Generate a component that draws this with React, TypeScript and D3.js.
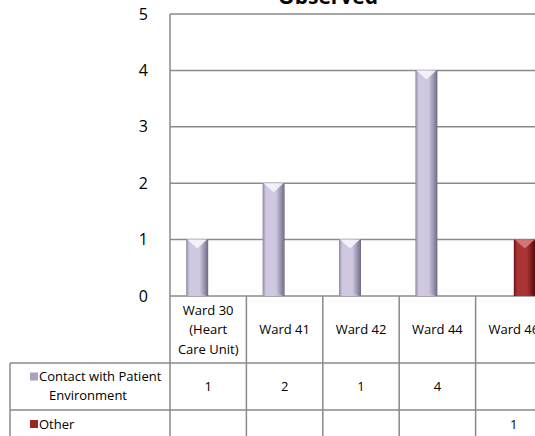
import React, { useEffect } from "react";
import * as d3 from "d3";

const categories = ["Ward 30 (Heart Care Unit)", "Ward 41", "Ward 42", "Ward 44", "Ward 46"];
const categoryLines = [["Ward 30", "(Heart", "Care Unit)"], ["Ward 41"], ["Ward 42"], ["Ward 44"], ["Ward 46"]];
const contactValues: (number | null)[] = [1, 2, 1, 4, null];
const otherValues: (number | null)[] = [null, null, null, null, 1];
const yTicks = [0, 1, 2, 3, 4, 5];

const series = [
  { key: "contact", label: ["Contact with Patient", "Environment"], values: contactValues, dark: "#8e87a3", light: "#cfc8e0", top: "#f6f4fa", swatch: "#aaa3bd" },
  { key: "other", label: ["Other"], values: otherValues, dark: "#6a1010", light: "#a93434", top: "#d77c7c", swatch: "#9a2626" },
];

const W = 535;
const H = 436;
const plotLeft = 170;
const plotTop = 14;
const plotBottom = 296;
const colW = 76.4;
const rowBottoms = [363, 410, 458];
const font = "'Open Sans', 'Noto Sans', sans-serif";
const lineColor = "#8a8a8a";
const fs = 13;

export default function App() {
  useEffect(() => {
    document.body.style.margin = "0";
  }, []);

  const x = d3
    .scaleBand<string>()
    .domain(categories)
    .range([plotLeft, plotLeft + colW * categories.length]);
  const x1 = d3
    .scaleBand<string>()
    .domain(series.map((s) => s.key))
    .range([0, x.bandwidth()])
    .paddingOuter(0.735);
  const y = d3.scaleLinear().domain([0, 5]).range([plotBottom, plotTop]);

  const bw = x1.bandwidth();

  return (
    <svg width={W} height={H} style={{ display: "block", background: "#fff" }}>
      <defs>
        {series.map((s) => (
          <linearGradient key={s.key} id={`g-${s.key}`} x1="0" y1="0" x2="1" y2="0">
            <stop offset="0%" stopColor={s.dark} />
            <stop offset="15%" stopColor={s.light} />
            <stop offset="60%" stopColor={s.light} />
            <stop offset="88%" stopColor={s.dark} />
            <stop offset="100%" stopColor={d3.color(s.dark)!.darker(0.7).toString()} />
          </linearGradient>
        ))}
      </defs>

      {/* title */}
      <text x={328} y={4} textAnchor="middle" fontFamily={font} fontWeight="bold" fontSize={21}>
        Observed
      </text>

      {/* gridlines */}
      {yTicks.map((t) => (
        <line key={t} x1={plotLeft} x2={W} y1={y(t)} y2={y(t)} stroke={lineColor} strokeWidth={1.5} />
      ))}
      {yTicks.map((t) => (
        <text key={`l${t}`} x={148} y={y(t)} dy="0.35em" textAnchor="end" fontFamily={font} fontSize={16}>
          {t}
        </text>
      ))}

      {/* bars */}
      {series.map((s) =>
        s.values.map((v, i) => {
          if (v == null) return null;
          const bx = x(categories[i])! + x1(s.key)!;
          const top = y(v);
          const h = y(0) - top;
          return (
            <g key={`${s.key}-${i}`}>
              <rect x={bx} y={top} width={bw} height={h} fill={`url(#g-${s.key})`} />
              <path
                d={`M${bx + 1},${top} L${bx + bw - 1},${top} L${bx + bw / 2},${top + 9} Z`}
                fill={s.top}
                opacity={0.9}
              />
              <path
                d={`M${bx + 2},${y(0)} L${bx + bw - 2},${y(0)} L${bx + bw / 2},${y(0) - 6} Z`}
                fill={s.light}
                opacity={0.5}
              />
            </g>
          );
        })
      )}

      {/* axis line */}
      <line x1={plotLeft} x2={plotLeft} y1={plotTop} y2={H} stroke={lineColor} strokeWidth={1.5} />

      {/* data table */}
      {categories.map((c, i) => (
        <line
          key={`v${i}`}
          x1={x(c)! + colW}
          x2={x(c)! + colW}
          y1={plotBottom}
          y2={H}
          stroke={lineColor}
          strokeWidth={1.5}
        />
      ))}
      {rowBottoms.slice(0, 2).map((rb) => (
        <line key={`h${rb}`} x1={10} x2={W} y1={rb} y2={rb} stroke={lineColor} strokeWidth={1.5} />
      ))}
      <line x1={10} x2={10} y1={rowBottoms[0]} y2={H} stroke={lineColor} strokeWidth={1.5} />

      {categories.map((c, i) => {
        const lines = categoryLines[i];
        const cy = (plotBottom + rowBottoms[0]) / 2;
        const lh = 19.5;
        return (
          <text key={`c${i}`} textAnchor="middle" fontFamily={font} fontSize={fs}>
            {lines.map((ln, j) => (
              <tspan key={j} x={x(c)! + colW / 2} y={cy + (j - (lines.length - 1) / 2) * lh} dy="0.35em">
                {ln}
              </tspan>
            ))}
          </text>
        );
      })}

      {series.map((s, si) => {
        const rt = rowBottoms[si];
        const rb = rowBottoms[si + 1];
        const cy = si === 0 ? (rt + rb) / 2 : rt + 14;
        return (
          <g key={`row${s.key}`}>
            {s.label.length > 1 ? (
              <>
                <rect x={30} y={cy - 14} width={8} height={8} fill={s.swatch} />
                <text x={39} y={cy - 10} dy="0.35em" fontFamily={font} fontSize={fs}>
                  {s.label[0]}
                </text>
                <text x={88} y={cy + 9} dy="0.35em" textAnchor="middle" fontFamily={font} fontSize={fs}>
                  {s.label[1]}
                </text>
              </>
            ) : (
              <>
                <rect x={30} y={cy - 4} width={8} height={8} fill={s.swatch} />
                <text x={39} y={cy} dy="0.35em" fontFamily={font} fontSize={fs}>
                  {s.label[0]}
                </text>
              </>
            )}
            {s.values.map((v, i) =>
              v == null ? null : (
                <text
                  key={i}
                  x={x(categories[i])! + colW / 2}
                  y={cy}
                  dy="0.35em"
                  textAnchor="middle"
                  fontFamily={font}
                  fontSize={fs}
                >
                  {v}
                </text>
              )
            )}
          </g>
        );
      })}
    </svg>
  );
}
